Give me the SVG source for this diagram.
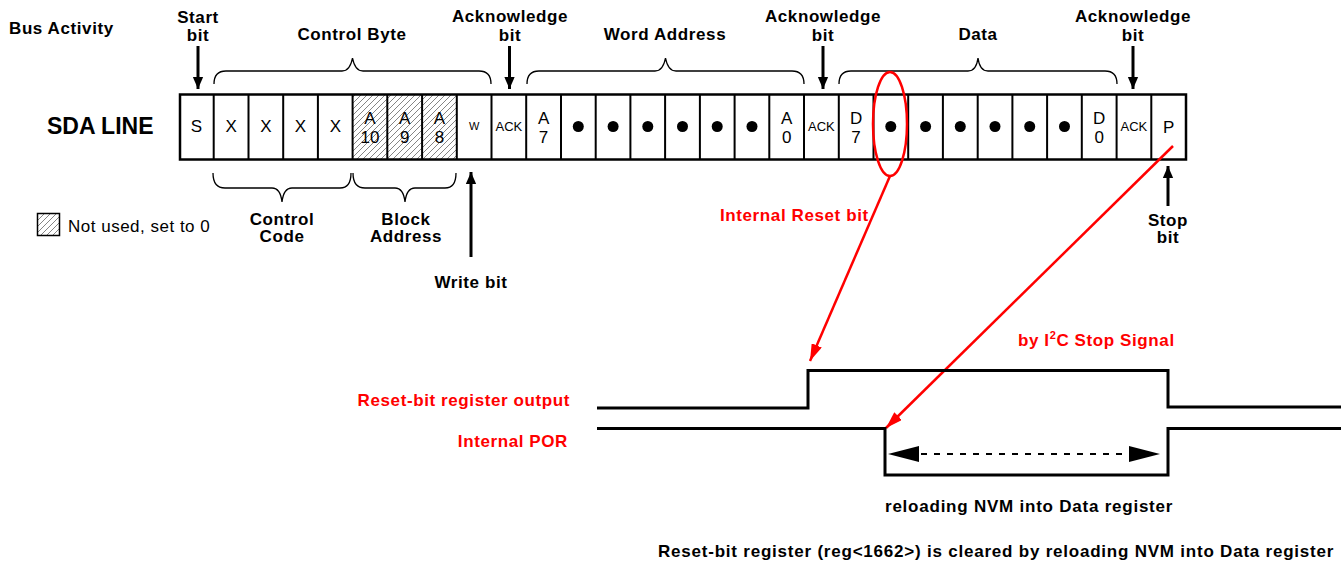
<svg xmlns="http://www.w3.org/2000/svg" width="1341" height="567" viewBox="0 0 1341 567">
<style>
.lb{font-family:"Liberation Sans",Arial,sans-serif;font-weight:bold;font-size:17px;letter-spacing:0.6px;fill:#000}
.rd{fill:#ff0000}
.mid{text-anchor:middle}
.cell{font-family:"Liberation Sans",Arial,sans-serif;font-size:17px;fill:#000;text-anchor:middle}
.sm{font-size:13px}
.xs{font-size:11px}
.div{stroke:#000;stroke-width:2}
.br{fill:none;stroke:#000;stroke-width:1.3}
.blk{stroke:#000;stroke-width:3;fill:none}
.red{stroke:#ff0000;stroke-width:2.5;fill:none}
.wave{stroke:#000;stroke-width:3;fill:none}
</style>
<defs>
<pattern id="hatch" patternUnits="userSpaceOnUse" width="6" height="6">
<path d="M0,6 L6,0 M-1.5,1.5 L1.5,-1.5 M4.5,7.5 L7.5,4.5" stroke="#666" stroke-width="0.8"/>
</pattern>
<marker id="ah" markerUnits="userSpaceOnUse" markerWidth="12" markerHeight="14" refX="14" refY="6" orient="auto" viewBox="0 0 14 12">
<path d="M0,0 L14,6 L0,12 z" fill="#000"/>
</marker>
<marker id="ahr" markerUnits="userSpaceOnUse" markerWidth="17" markerHeight="11" refX="17" refY="5.5" orient="auto" viewBox="0 0 17 11">
<path d="M0,0 L17,5.5 L0,11 z" fill="#ff0000"/>
</marker>
</defs>
<rect width="1341" height="567" fill="#fff"/>

<g id="title">
<text class="lb" x="9" y="34">Bus Activity</text>
<text x="47" y="134" font-family="Liberation Sans, Arial, sans-serif" font-weight="bold" font-size="23">SDA LINE</text>
</g>

<g id="sda-frame">
<rect x="352.6" y="94.5" width="104.2" height="65" fill="url(#hatch)"/>
<rect x="180" y="94.5" width="1006" height="65" fill="none" stroke="#000" stroke-width="2.5"/>
<path class="div" d="M213.7,94.5V159.5 M248.5,94.5V159.5 M283.2,94.5V159.5 M317.9,94.5V159.5 M352.6,94.5V159.5 M387.3,94.5V159.5 M422.1,94.5V159.5 M456.8,94.5V159.5 M491.5,94.5V159.5 M526.2,94.5V159.5 M561,94.5V159.5 M595.7,94.5V159.5 M630.4,94.5V159.5 M665.1,94.5V159.5 M699.9,94.5V159.5 M734.6,94.5V159.5 M769.3,94.5V159.5 M804,94.5V159.5 M838.8,94.5V159.5 M873.5,94.5V159.5 M908.2,94.5V159.5 M942.9,94.5V159.5 M977.7,94.5V159.5 M1012.4,94.5V159.5 M1047.1,94.5V159.5 M1081.8,94.5V159.5 M1116.6,94.5V159.5 M1151.3,94.5V159.5"/>
</g>

<g id="cells">
<text class="cell" x="196.4" y="132" font-size="16">S</text>
<text class="cell" x="231.1" y="132">X</text>
<text class="cell" x="265.8" y="132">X</text>
<text class="cell" x="300.5" y="132">X</text>
<text class="cell" x="335.3" y="132">X</text>
<text class="cell" x="370" y="123.5">A</text><text class="cell" x="370" y="143">10</text>
<text class="cell" x="404.7" y="123.5">A</text><text class="cell" x="404.7" y="143">9</text>
<text class="cell" x="439.4" y="123.5">A</text><text class="cell" x="439.4" y="143">8</text>
<text class="cell xs" x="474.2" y="130">W</text>
<text class="cell sm" x="508.9" y="131">ACK</text>
<text class="cell" x="543.6" y="123.5">A</text><text class="cell" x="543.6" y="143">7</text>
<text class="cell" x="786.7" y="123.5">A</text><text class="cell" x="786.7" y="143">0</text>
<text class="cell sm" x="821.4" y="131">ACK</text>
<text class="cell" x="856.1" y="123.5">D</text><text class="cell" x="856.1" y="143">7</text>
<text class="cell" x="1099.2" y="123.5">D</text><text class="cell" x="1099.2" y="143">0</text>
<text class="cell sm" x="1133.9" y="131">ACK</text>
<text class="cell" x="1168.6" y="133" font-size="19">P</text>
<g fill="#000">
<circle cx="578.3" cy="126.5" r="5.5"/><circle cx="613.1" cy="126.5" r="5.5"/><circle cx="647.8" cy="126.5" r="5.5"/>
<circle cx="682.5" cy="126.5" r="5.5"/><circle cx="717.2" cy="126.5" r="5.5"/><circle cx="752" cy="126.5" r="5.5"/>
<circle cx="890.8" cy="126.5" r="5.5"/><circle cx="925.6" cy="126.5" r="5.5"/><circle cx="960.3" cy="126.5" r="5.5"/>
<circle cx="995" cy="126.5" r="5.5"/><circle cx="1029.7" cy="126.5" r="5.5"/><circle cx="1064.5" cy="126.5" r="5.5"/>
</g>
</g>

<g id="top-labels">
<text class="lb mid" x="198" y="23">Start</text>
<text class="lb mid" x="198" y="41">bit</text>
<text class="lb mid" x="352" y="40">Control Byte</text>
<text class="lb mid" x="510" y="22">Acknowledge</text>
<text class="lb mid" x="510" y="41">bit</text>
<text class="lb mid" x="665" y="40">Word Address</text>
<text class="lb mid" x="823" y="22">Acknowledge</text>
<text class="lb mid" x="823" y="41">bit</text>
<text class="lb mid" x="978" y="40">Data</text>
<text class="lb mid" x="1133" y="22">Acknowledge</text>
<text class="lb mid" x="1133" y="41">bit</text>
</g>

<g id="bottom-labels">
<text class="lb mid" x="282" y="225">Control</text>
<text class="lb mid" x="282" y="242">Code</text>
<text class="lb mid" x="406" y="225">Block</text>
<text class="lb mid" x="406" y="242">Address</text>
<text class="lb mid" x="471" y="288">Write bit</text>
<text class="lb mid" x="1168" y="226">Stop</text>
<text class="lb mid" x="1168" y="243">bit</text>
</g>

<g id="legend">
<rect x="37.5" y="213.5" width="22" height="22" fill="url(#hatch)" stroke="#000" stroke-width="1.5"/>
<text x="68" y="232" font-family="Liberation Sans, Arial, sans-serif" font-size="17" letter-spacing="0.5">Not used, set to 0</text>
</g>

<g id="connectors">
<path class="br" d="M214,84 C214,76 218,71 226,71 L342,71 C348,71 351,66 352.5,58 C354,66 357,71 363,71 L479,71 C487,71 491,76 491,84"/>
<path class="br" d="M527,84 C527,76 531,71 539,71 L655,71 C661,71 664,66 665.5,58 C667,66 670,71 676,71 L792,71 C800,71 804,76 804,84"/>
<path class="br" d="M839,84 C839,76 843,71 851,71 L968,71 C974,71 977,66 978,58 C979,66 982,71 988,71 L1105,71 C1113,71 1117,76 1117,84"/>
<path class="br" d="M213,173 C213,182 216,188 225,188 L272,188 C278,188 281,193 282,202 C283,193 286,188 292,188 L340,188 C348,188 351,182 351,173"/>
<path class="br" d="M353,173 C353,182 356,188 365,188 L395,188 C401,188 404,193 405,202 C406,193 409,188 415,188 L445,188 C453,188 456,182 456,173"/>
<line class="blk" x1="198" y1="46" x2="198" y2="89" marker-end="url(#ah)"/>
<line class="blk" x1="509.5" y1="46" x2="509.5" y2="89" marker-end="url(#ah)"/>
<line class="blk" x1="823" y1="46" x2="823" y2="89" marker-end="url(#ah)"/>
<line class="blk" x1="1133" y1="46" x2="1133" y2="89" marker-end="url(#ah)"/>
<line class="blk" x1="471" y1="257" x2="471" y2="172" marker-end="url(#ah)"/>
<line class="blk" x1="1168" y1="206" x2="1168" y2="166" marker-end="url(#ah)"/>
<ellipse class="red" cx="890" cy="124" rx="17" ry="52"/>
<line class="red" x1="890" y1="176" x2="810" y2="361" marker-end="url(#ahr)"/>
<line class="red" x1="1173" y1="146" x2="886" y2="428" marker-end="url(#ahr)"/>
<line x1="921" y1="454" x2="1128" y2="454" stroke="#000" stroke-width="2" stroke-dasharray="6,7"/>
<path d="M888,454 L919,446 L919,462 z M1160,454 L1129,446 L1129,462 z" fill="#000"/>
</g>

<g id="waveforms">
<path class="wave" d="M597,408 H808 V370.5 H1168 V407 H1341"/>
<path class="wave" d="M597,428.5 H885 V475 H1168 V428.5 H1341"/>
</g>

<g id="red-labels">
<text class="lb rd" x="720" y="221">Internal Reset bit</text>
<text class="lb rd" x="1018" y="346">by I<tspan font-size="11" dy="-7">2</tspan><tspan dy="7">C Stop Signal</tspan></text>
<text class="lb rd" x="570" y="406" text-anchor="end">Reset-bit register output</text>
<text class="lb rd" x="568" y="447" text-anchor="end">Internal POR</text>
</g>

<g id="notes">
<text class="lb" x="885" y="512" textLength="288">reloading NVM into Data register</text>
<text class="lb" x="658" y="557" textLength="676">Reset-bit register (reg&lt;1662&gt;) is cleared by reloading NVM into Data register</text>
</g>
</svg>
